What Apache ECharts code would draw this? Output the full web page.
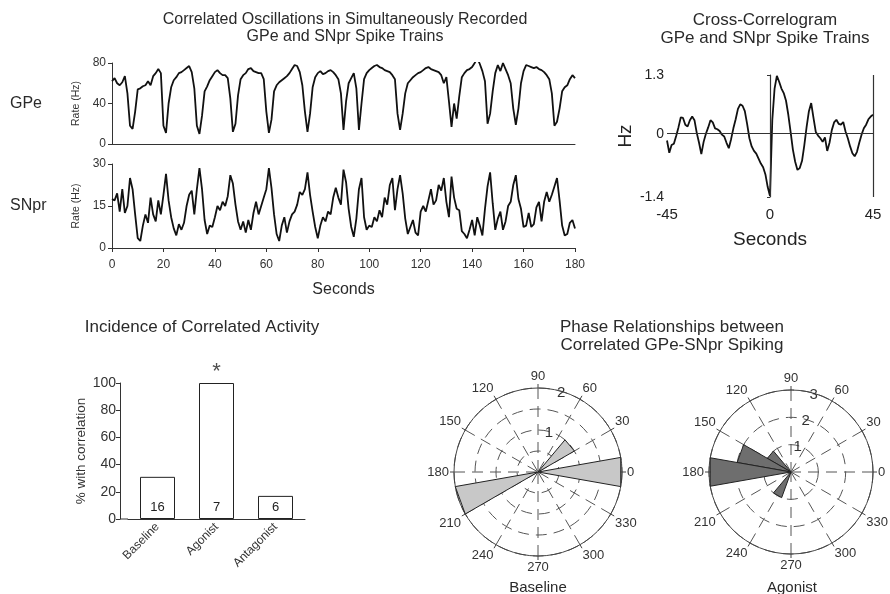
<!DOCTYPE html>
<html lang="en">
<head>
    <meta charset="UTF-8">
    <title>GPe / SNpr correlated oscillations</title>
    <script src="https://cdn.jsdelivr.net/npm/echarts@6/dist/echarts.min.js"></script>
    <style>
        html, body { margin: 0; padding: 0; background: #fff; }
        #main { width: 890px; height: 594px; }
    </style>
</head>
<body>
<div id="main"></div>

<script type="text/javascript">
    // firing rate traces, one value per second, 0..180 s
    var gpeRate = [62, 65, 60, 58, 61, 67, 50, 18, 15, 32, 54, 55, 57, 58, 62, 58, 67, 70, 74, 70,
        18, 11, 40, 56, 63, 66, 70, 71, 73, 75, 77, 71, 55, 18, 10, 28, 52, 57, 63, 67,
        71, 73, 70, 68, 68, 65, 45, 12, 20, 48, 64, 68, 70, 74, 75, 72, 71, 70, 70, 64,
        32, 11, 24, 52, 58, 61, 63, 65, 67, 70, 74, 78, 77, 71, 58, 32, 12, 30, 56, 66,
        70, 72, 69, 70, 72, 73, 71, 68, 64, 50, 14, 42, 60, 65, 70, 55, 14, 40, 64, 70,
        73, 75, 77, 78, 76, 75, 73, 72, 71, 68, 64, 30, 14, 30, 50, 60, 63, 66, 68, 70,
        71, 73, 75, 76, 74, 73, 72, 71, 68, 60, 66, 42, 17, 40, 25, 47, 66, 70, 73, 74,
        76, 80, 85, 79, 72, 62, 20, 30, 52, 70, 78, 72, 80, 74, 68, 60, 35, 19, 35, 60,
        72, 78, 77, 76, 75, 76, 74, 73, 71, 68, 64, 50, 18, 22, 35, 52, 56, 58, 64, 68, 65];

    var snprRate = [17.5, 17, 19.5, 13, 21, 12.5, 15, 25, 21, 12, 3.5, 2.5, 8, 12, 9, 18, 12, 9.5, 17, 12,
        19, 26.5, 17, 11, 7, 4.5, 8.5, 6.5, 9, 15, 19, 20.5, 12, 21, 28.5, 21, 10, 5, 8, 7.5,
        11, 15, 13.5, 16.5, 15, 18.5, 26, 23, 15.5, 9.5, 6.5, 9.5, 5.5, 10, 6.5, 12.5, 16.5, 12, 15, 18,
        21, 28.5, 21.5, 12, 5, 2.5, 8, 11, 5.5, 9.5, 12, 13, 15.5, 20, 19, 21, 27, 19, 13, 7.5,
        3.5, 8, 11, 9.5, 13, 12, 18, 21.5, 18, 15.5, 28, 23.5, 14, 7.5, 4, 10.5, 21, 25, 11, 6.5,
        8, 7.5, 11, 9.5, 13.5, 11, 18, 15.5, 22.5, 25, 13.5, 21, 26, 19.5, 10.5, 5, 7.5, 10, 5.5, 4.5,
        13, 15, 13, 17, 21, 15.5, 17, 22.5, 20.5, 25, 16.5, 11, 25.5, 18, 14, 13.5, 6, 5, 3.5, 6.5,
        10, 4.5, 11, 8, 4.5, 14, 22, 27, 16, 6.5, 10.5, 13, 6.5, 9.5, 15, 16.5, 22.5, 26, 17.5, 14,
        7.5, 8, 12.5, 7.5, 8.5, 14.5, 16.5, 9.5, 16.5, 20, 16.5, 19, 22, 25, 17, 8, 4.5, 5, 9, 10, 7];

    // cross-correlogram, one value per second, lag -45..45 s
    var xcorrLagStart = -45;
    var xcorrHz = [-0.15, -0.42, -0.25, -0.22, -0.05, 0.14, 0.36, 0.35, 0.2, 0.16,
        0.3, 0.38, 0.3, 0.02, -0.2, -0.45, -0.18, 0, 0.14, 0.3,
        0.25, 0.12, 0.1, 0.06, -0.02, -0.06, -0.2, -0.32, -0.12, 0.12,
        0.32, 0.55, 0.65, 0.62, 0.5, 0.22, -0.1, -0.28, -0.38, -0.44,
        -0.55, -0.66, -0.74, -0.9, -1.18, -1.38, 0.3, 1.0, 1.28, 1.15,
        1.0, 0.9, 0.73, 0.42, 0.04, -0.35, -0.62, -0.8, -0.76, -0.6,
        -0.25, 0.15, 0.5, 0.68, 0.35, 0.04, -0.04, -0.1, -0.18, -0.08,
        -0.38, -0.2, 0.08, 0.25, 0.31, 0.22, 0.2, 0.26, 0.05, -0.1,
        -0.28, -0.43, -0.5, -0.4, -0.2, -0.02, 0.12, 0.2, 0.32, 0.38, 0.42];

    // incidence of correlated activity
    var conditions = ['Baseline', 'Agonist', 'Antagonist'];
    var pctCorrelated = [31, 100, 17];
    var nPairs = [16, 7, 6];
    var sigMarks = ['', '*', ''];

    // rose plots: bin centre (deg) and count
    var binWidth = 20;
    var baselineBins = [0, 40, 200];
    var baselineCounts = [2, 1, 2];
    var agonistBins = [140, 160, 180, 240];
    var agonistCounts = [1, 2, 3, 1];

    var font = 'Liberation Sans, Arial, sans-serif';
    var ink = '#222';

    function toXY(values, start) {
        return values.map(function (v, i) { return [start + i, v]; });
    }

    function rose(polarIndex, bins, counts, fill) {
        return {
            type: 'custom',
            coordinateSystem: 'polar',
            polarIndex: polarIndex,
            silent: true,
            data: bins.map(function (a, i) { return [counts[i], a]; }),
            renderItem: function (params, api) {
                var r = api.value(0), a = api.value(1);
                var c = api.coord([0, a]);
                var p1 = api.coord([r, a - binWidth / 2]);
                var p2 = api.coord([r, a + binWidth / 2]);
                return {
                    type: 'polygon',
                    shape: {points: [c, p1, p2]},
                    style: {fill: fill, stroke: ink, lineWidth: 1}
                };
            }
        };
    }

    var dashed = {show: true, lineStyle: {color: '#555', type: [11, 7], width: 1}};

    function angleAxis(polarIndex) {
        return {
            polarIndex: polarIndex, type: 'value', min: 0, max: 360, interval: 30,
            startAngle: 0, clockwise: false,
            axisLine: {lineStyle: {color: '#444', width: 1}},
            axisTick: {show: true, length: 4, lineStyle: {color: '#444'}},
            axisLabel: {
                fontSize: 13, color: '#333', margin: 5,
                formatter: function (v) { return v === 360 ? '' : v; }
            },
            splitLine: dashed
        };
    }

    // invisible polar used only to place the radial count labels
    function labelAngleAxis(polarIndex) {
        return {polarIndex: polarIndex, type: 'value', min: 0, max: 360, startAngle: 73, clockwise: false, show: false};
    }

    function labelRadiusAxis(polarIndex, max) {
        return {
            polarIndex: polarIndex, type: 'value', min: 0, max: max, interval: 1,
            axisLine: {show: false}, axisTick: {show: false}, splitLine: {show: false},
            axisLabel: {fontSize: 15, color: '#333', margin: -3,
                formatter: function (v) { return v ? v : ''; }}
        };
    }

    function plainTitle(text, left, top, size, align) {
        return {
            text: text, left: left, top: top, padding: 0, textAlign: align || 'center',
            textStyle: {fontSize: size, fontWeight: 'normal', color: '#2a2a2a', lineHeight: size + 1}
        };
    }

    var chart = echarts.init(document.getElementById('main'));

    var option = {
        animation: false,
        textStyle: {fontFamily: font},
        title: [
            plainTitle('Correlated Oscillations in Simultaneously Recorded\nGPe and SNpr Spike Trains', 345, 11, 16),
            plainTitle('Cross-Correlogram\nGPe and SNpr Spike Trains', 765, 11, 17),
            plainTitle('GPe', 10, 95, 16, 'left'),
            plainTitle('SNpr', 10, 197, 16, 'left'),
            plainTitle('Incidence of Correlated Activity', 202, 318, 17),
            plainTitle('Phase Relationships between\nCorrelated GPe-SNpr Spiking', 672, 318, 17),
            plainTitle('Baseline', 538, 580, 15),
            plainTitle('Agonist', 792, 580, 15)
        ],
        grid: [
            {left: 112, top: 63, width: 463, height: 81},
            {left: 112, top: 164, width: 463, height: 84},
            {left: 667, top: 75, width: 206, height: 122},
            {left: 128, top: 383, width: 177, height: 136}
        ],
        xAxis: [
            {gridIndex: 0, type: 'value', min: 0, max: 180, axisLine: {lineStyle: {color: '#333'}},
                axisTick: {show: false}, axisLabel: {show: false}, splitLine: {show: false}},
            {gridIndex: 1, type: 'value', min: 0, max: 180, interval: 20, axisLine: {lineStyle: {color: '#333'}},
                axisTick: {show: true, length: 4}, axisLabel: {fontSize: 12, color: '#333', margin: 11},
                splitLine: {show: false}, name: 'Seconds', nameLocation: 'middle', nameGap: 34,
                nameTextStyle: {fontSize: 16, color: '#2a2a2a'}},
            {gridIndex: 2, type: 'value', min: -45, max: 45, interval: 45, axisLine: {show: false},
                axisTick: {show: false}, axisLabel: {fontSize: 15, color: '#222', margin: 10},
                splitLine: {show: false}, name: 'Seconds', nameLocation: 'middle', nameGap: 33,
                nameTextStyle: {fontSize: 19, color: '#222'}},
            {gridIndex: 3, type: 'category', data: conditions, axisLine: {lineStyle: {color: '#333'}},
                axisTick: {show: false}, axisLabel: {rotate: 45, fontSize: 12, color: '#333', margin: 6}}
        ],
        yAxis: [
            {gridIndex: 0, type: 'value', min: 0, max: 80, interval: 40, axisLine: {show: true, lineStyle: {color: '#333'}},
                axisTick: {show: true, length: 4}, axisLabel: {fontSize: 12, color: '#333', margin: 6},
                splitLine: {show: false}, name: 'Rate (Hz)', nameLocation: 'middle', nameGap: 26,
                nameTextStyle: {fontSize: 10.5, color: '#333'}},
            {gridIndex: 1, type: 'value', min: 0, max: 30, interval: 15, axisLine: {show: true, lineStyle: {color: '#333'}},
                axisTick: {show: true, length: 4}, axisLabel: {fontSize: 12, color: '#333', margin: 6},
                splitLine: {show: false}, name: 'Rate (Hz)', nameLocation: 'middle', nameGap: 26,
                nameTextStyle: {fontSize: 10.5, color: '#333'}},
            {gridIndex: 2, type: 'value', min: -1.4, max: 1.3, axisLine: {show: true, lineStyle: {color: '#333'}},
                axisTick: {show: true, length: 3, customValues: [-1.4, 0, 1.3]},
                axisLabel: {fontSize: 14, color: '#222', margin: 3, customValues: [-1.4, 0, 1.3]},
                splitLine: {show: false}, name: 'Hz', nameLocation: 'middle', nameGap: 32,
                nameTextStyle: {fontSize: 19, color: '#222'}},
            {gridIndex: 3, type: 'value', min: 0, max: 100, interval: 20, offset: 8,
                axisLine: {show: true, lineStyle: {color: '#333'}},
                axisTick: {show: true, length: 4}, axisLabel: {fontSize: 14, color: '#333', margin: 4},
                splitLine: {show: false}, name: '% with correlation', nameLocation: 'middle', nameGap: 30,
                nameTextStyle: {fontSize: 13.5, color: '#333'}}
        ],
        polar: [
            {center: [538, 472], radius: 84},
            {center: [538, 472], radius: 84},
            {center: [791, 472], radius: 82},
            {center: [791, 472], radius: 82}
        ],
        angleAxis: [angleAxis(0), labelAngleAxis(1), angleAxis(2), labelAngleAxis(3)],
        radiusAxis: [
            {polarIndex: 0, type: 'value', min: 0, max: 2, interval: 0.5, axisLine: {show: false},
                axisTick: {show: false}, axisLabel: {show: false}, splitLine: dashed},
            labelRadiusAxis(1, 2),
            {polarIndex: 2, type: 'value', min: 0, max: 3, interval: 1, axisLine: {show: false},
                axisTick: {show: false}, axisLabel: {show: false}, splitLine: dashed},
            labelRadiusAxis(3, 3)
        ],
        graphic: [
            // x axis of the bar panel runs back to the offset y axis
            {type: 'line', shape: {x1: 120, y1: 519, x2: 128, y2: 519}, style: {stroke: '#333', lineWidth: 1}}
        ],
        series: [
            {type: 'line', xAxisIndex: 0, yAxisIndex: 0, data: toXY(gpeRate, 0), showSymbol: false,
                lineStyle: {color: '#111', width: 1.8}},
            {type: 'line', xAxisIndex: 1, yAxisIndex: 1, data: toXY(snprRate, 0), showSymbol: false,
                lineStyle: {color: '#111', width: 1.8}},
            {type: 'line', xAxisIndex: 2, yAxisIndex: 2, data: toXY(xcorrHz, xcorrLagStart), showSymbol: false,
                lineStyle: {color: '#111', width: 1.8},
                markLine: {
                    silent: true, symbol: 'none', label: {show: false},
                    lineStyle: {color: '#333', type: 'solid', width: 1.2},
                    data: [{yAxis: 0}, {xAxis: 0}, {xAxis: 45}]
                }},
            {type: 'bar', xAxisIndex: 3, yAxisIndex: 3, data: pctCorrelated, barWidth: 35,
                itemStyle: {color: '#fff', borderColor: ink, borderWidth: 1},
                label: {show: true, position: 'insideBottom', distance: 5, fontSize: 13, color: '#222',
                    formatter: function (p) { return nPairs[p.dataIndex]; }}},
            {type: 'scatter', xAxisIndex: 3, yAxisIndex: 3, symbolSize: 0,
                data: conditions.map(function (c, i) { return [c, pctCorrelated[i]]; }),
                label: {show: true, position: 'top', distance: 0, fontSize: 22, color: '#222',
                    formatter: function (p) { return sigMarks[p.dataIndex]; }}},
            rose(0, baselineBins, baselineCounts, '#c8c8c8'),
            rose(2, agonistBins, agonistCounts, '#6e6e6e')
        ]
    };

    chart.setOption(option);
</script>

</body>
</html>
